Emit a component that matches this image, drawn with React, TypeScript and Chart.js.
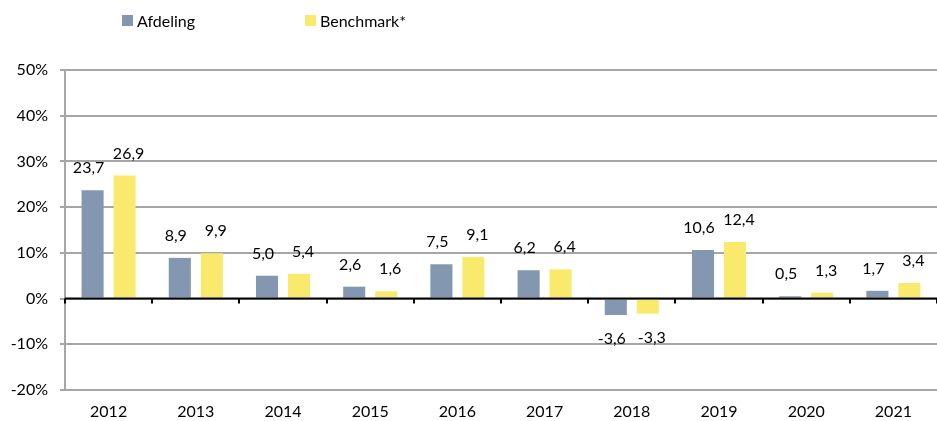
import React, { useEffect, useRef } from "react";
import { Chart, registerables } from "chart.js";

Chart.register(...registerables);

const categories = ["2012", "2013", "2014", "2015", "2016", "2017", "2018", "2019", "2020", "2021"];
const afdeling = [23.7, 8.9, 5.0, 2.6, 7.5, 6.2, -3.6, 10.6, 0.5, 1.7];
const benchmark = [26.9, 9.9, 5.4, 1.6, 9.1, 6.4, -3.3, 12.4, 1.3, 3.4];
const seriesNames = ["Afdeling", "Benchmark*"];
const seriesColors = ["#8497B0", "#F9EA6D"];
const yMin = -20;
const yMax = 50;
const yStep = 10;

const FONT = "Lato, 'Open Sans', sans-serif";

const labelPlugin = {
  id: "valueLabels",
  afterDatasetsDraw(chart: any) {
    const ctx = chart.ctx;
    const area = chart.chartArea;
    const yScale = chart.scales.y;
    const zeroY = yScale.getPixelForValue(0);
    ctx.save();
    ctx.strokeStyle = "#000";
    ctx.lineWidth = 2;
    ctx.beginPath();
    ctx.moveTo(area.left, zeroY);
    ctx.lineTo(area.right, zeroY);
    ctx.stroke();
    const n = categories.length;
    const w = (area.right - area.left) / n;
    for (let i = 0; i <= n; i++) {
      const x = Math.round(area.left + i * w);
      ctx.beginPath();
      ctx.moveTo(x, zeroY);
      ctx.lineTo(x, zeroY + 5);
      ctx.stroke();
    }
    ctx.fillStyle = "#000";
    ctx.font = "16px " + FONT;
    ctx.textAlign = "center";
    ctx.textBaseline = "middle";
    chart.data.datasets.forEach((ds: any, di: number) => {
      const meta = chart.getDatasetMeta(di);
      meta.data.forEach((bar: any, i: number) => {
        const v = ds.data[i];
        const txt = v.toFixed(1).replace(".", ",");
        const dx = di === 0 ? -4 : 4;
        const y = v >= 0 ? bar.y - 22 : bar.y + 24;
        ctx.fillText(txt, bar.x + dx, y);
      });
    });
    ctx.restore();
  },
};

export default function App() {
  const ref = useRef<HTMLCanvasElement | null>(null);
  useEffect(() => {
    document.body.style.margin = "0";
    const chart = new Chart(ref.current as HTMLCanvasElement, {
      type: "bar",
      data: {
        labels: categories,
        datasets: [
          { label: seriesNames[0], data: afdeling, backgroundColor: seriesColors[0], categoryPercentage: 0.734, barPercentage: 0.69 },
          { label: seriesNames[1], data: benchmark, backgroundColor: seriesColors[1], categoryPercentage: 0.734, barPercentage: 0.69 },
        ],
      },
      options: {
        animation: false,
        responsive: false,
        maintainAspectRatio: false,
        layout: { padding: { top: 70, right: 0, left: 0, bottom: 0 } },
        plugins: { legend: { display: false }, tooltip: { enabled: false } },
        scales: {
          x: {
            grid: { display: false },
            border: { display: false },
            ticks: { color: "#000", font: { family: FONT, size: 16 }, padding: 4 },
            afterFit(scale: any) { scale.height = 31; },
          },
          y: {
            min: yMin,
            max: yMax,
            ticks: {
              stepSize: yStep,
              color: "#000",
              font: { family: FONT, size: 16 },
              padding: 12,
              callback: (v: any) => v + "%",
            },
            grid: { color: "#a6a6a6", lineWidth: 2, tickLength: 5, drawTicks: true },
            border: { display: true, color: "#a6a6a6", width: 2 },
            afterFit(scale: any) { scale.width = 65; },
          },
        },
      },
      plugins: [labelPlugin],
    });
    return () => chart.destroy();
  }, []);

  const legendItem = (i: number, left: number) => (
    <div style={{ position: "absolute", left, top: 11, display: "flex", alignItems: "center", fontFamily: FONT, fontSize: 16, color: "#000" }}>
      <span style={{ display: "inline-block", width: 11, height: 11, background: seriesColors[i], marginRight: 4 }} />
      <span>{seriesNames[i]}</span>
    </div>
  );

  return (
    <div style={{ position: "relative", width: 937, height: 421 }}>
      <canvas ref={ref} width={937} height={421} style={{ display: "block" }} />
      {legendItem(0, 122)}
      {legendItem(1, 305)}
    </div>
  );
}
